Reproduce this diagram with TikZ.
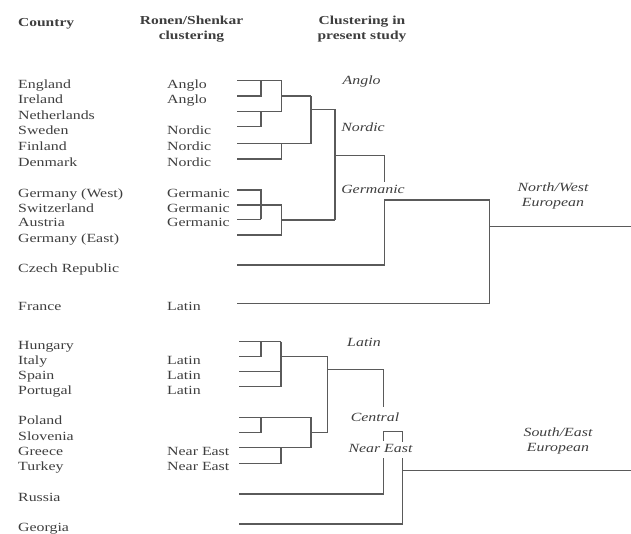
\documentclass[tikz,border=0pt]{standalone}
\usepackage{fontspec}
\setmainfont{Liberation Serif}[FakeStretch=1.27]
\usetikzlibrary{calc}
\definecolor{inkgray}{HTML}{3E3E3E}
\definecolor{linegray}{HTML}{5A5A5A}

\begin{document}
\begin{tikzpicture}[x=1pt,y=-1pt,
  every node/.style={inner sep=0pt,text=inkgray},
  country/.style={anchor=base west,font=\fontsize{12.5}{15.5}\selectfont},
  ronen/.style={country},
  clus/.style={anchor=base,align=center,font=\fontsize{12.5}{15.5}\selectfont\itshape},
  head/.style={anchor=base,align=center,font=\fontsize{12.2}{15}\selectfont\bfseries},
  tree/.style={draw=linegray,line width=1.1pt}]
  \useasboundingbox (0,0) rectangle (631,533);

  % column heads (base = last line)
  \node[head,anchor=base west] (hcountry) at (18,26.7) {Country};
  \node[head] (hronen) at (191.5,39.7) {Ronen/Shenkar\\clustering};
  \node[head] (hpresent) at (362,39.7) {Clustering in\\present study};

  % leaves and country names
  \foreach \n/\y/\x/\cname in {eng/80.7/237/England, ire/96/237/Ireland,
      net/111.7/237/Netherlands, swe/126.7/237/Sweden, fin/143.3/237/Finland,
      den/159/237/Denmark, gew/190/237/Germany (West), swi/205/237/Switzerland,
      aus/219.3/237/Austria, gee/235/237/Germany (East), cze/265/237/Czech Republic,
      fra/303.3/237/France, hun/341.7/239/Hungary, ita/356.7/239/Italy,
      spa/371.7/239/Spain, por/386.7/239/Portugal, pol/417.3/239/Poland,
      slo/432.7/239/Slovenia, gre/447.7/239/Greece, tur/463.3/239/Turkey,
      rus/494/239/Russia, geo/524/239/Georgia}{
    \coordinate (\n) at (\x,\y);
    \node[country] (c-\n) at (18,\y+7.3) {\cname};
  }

  % Ronen/Shenkar clusters
  \foreach \n/\lab in {eng/Anglo, ire/Anglo, swe/Nordic, fin/Nordic, den/Nordic,
      gew/Germanic, swi/Germanic, aus/Germanic, fra/Latin, ita/Latin, spa/Latin,
      por/Latin, gre/Near East, tur/Near East}
    \node[ronen] (r-\n) at ($(c-\n.base west)+(149,0)$) {\lab};

  % Anglo and Nordic
  \draw[tree] (eng) -- (281.7,80.7);
  \draw[tree] (ire) -| (261,80.7);
  \draw[tree] (net) -- (281.7,111.7);
  \draw[tree] (swe) -| (261,111.7);
  \draw[tree] (281.7,80.7) -- (281.7,111.7);
  \draw[tree] (281.7,96) -- (311,96);
  \draw[tree] (fin) -| (311,96);
  \draw[tree] (den) -| (281.7,143.3);
  \draw[tree] (311,109.3) -- (335,109.3) -- (335,220);

  % Germanic
  \draw[tree] (gew) -| (261,219.3);
  \draw[tree] (aus) -- (261,219.3);
  \draw[tree] (swi) -- (281.7,205);
  \draw[tree] (gee) -| (281.7,205);
  \draw[tree] (281.7,220) -- (335,220);

  % North/West European
  \draw[tree] (335,155.7) -- (384.3,155.7) -- (384.3,181.7);
  \draw[tree] (cze) -| (384.3,200) -- (489.3,200) |- (fra);
  \draw[tree] (489.3,226.7) -- (631,226.7);

  % Latin, Central, Near East
  \draw[tree] (hun) -- (281,341.7);
  \draw[tree] (ita) -| (261,341.7);
  \draw[tree] (281,341.7) -- (281,386.7);
  \draw[tree] (spa) -- (281,371.7);
  \draw[tree] (por) -- (281,386.7);
  \draw[tree] (281,356.7) -- (327.7,356.7) -- (327.7,432.7) -- (311,432.7);
  \draw[tree] (pol) -- (311,417.3) -- (311,447.7) -- (gre);
  \draw[tree] (slo) -| (261,417.3);
  \draw[tree] (tur) -| (281,447.7);
  \draw[tree] (327.7,369.3) -- (383.3,369.3) -- (383.3,407.3);
  \draw[tree] (383.3,440.7) -- (383.3,431.7) -- (402.7,431.7) -- (402.7,442);

  % South/East European
  \draw[tree] (rus) -| (383.3,458.3);
  \draw[tree] (geo) -| (402.7,458.3);
  \draw[tree] (402.7,470.7) -- (631,470.7);

  % clusters of the present study
  \node[clus] (kanglo) at (361.7,84.7) {Anglo};
  \node[clus] (knordic) at (363,131.7) {Nordic};
  \node[clus] (kgerman) at (373,193.3) {Germanic};
  \node[clus] (knw) at (553,206.7) {North/West\\European};
  \node[clus] (klatin) at (364,346) {Latin};
  \node[clus] (kcentral) at (375,421.7) {Central};
  \node[clus] (kneareast) at (380.5,452.7) {Near East};
  \node[clus] (kse) at (558,451.5) {South/East\\European};
\end{tikzpicture}
\end{document}
